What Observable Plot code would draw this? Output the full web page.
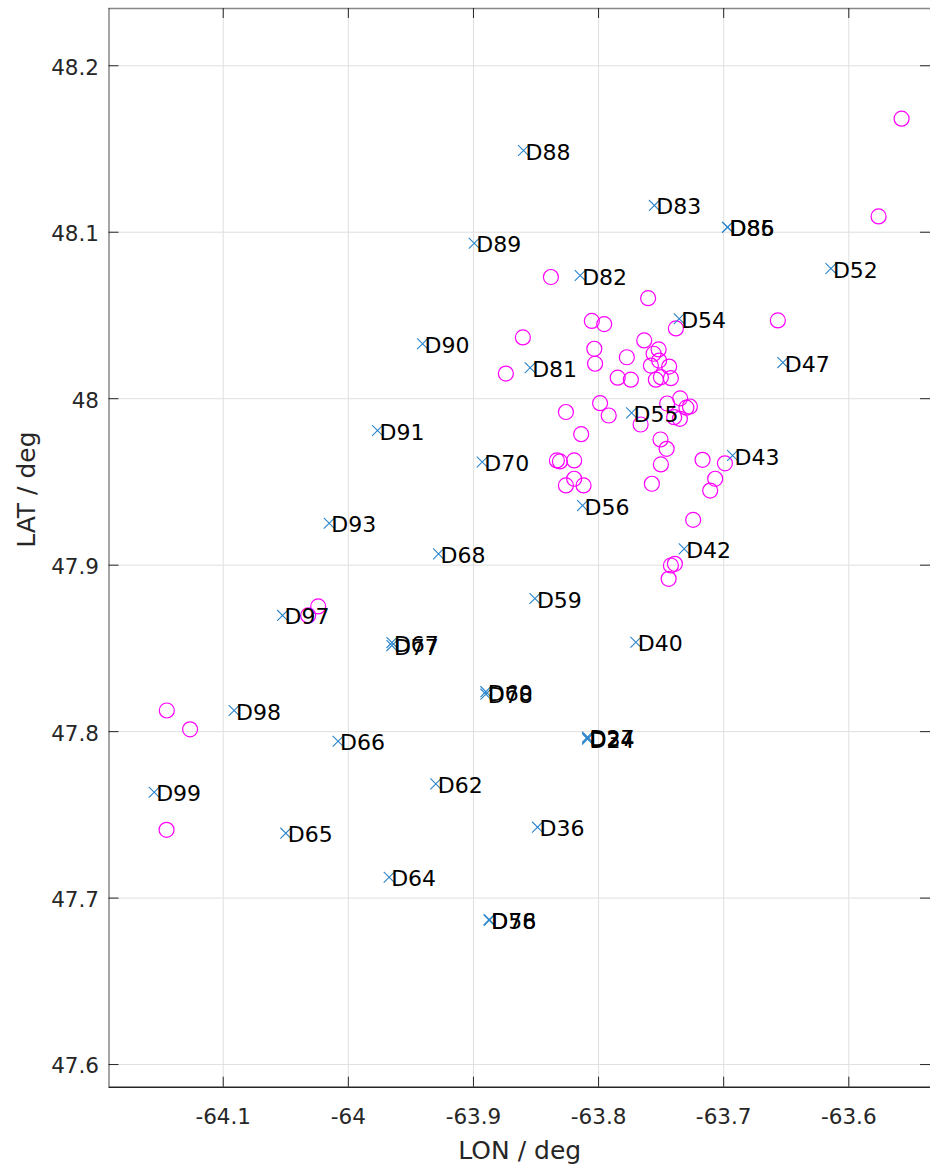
<!DOCTYPE html>
<html>
<head>
<meta charset="utf-8">
<script src="https://cdn.jsdelivr.net/npm/d3@7"></script>
<script src="https://cdn.jsdelivr.net/npm/@observablehq/plot@0.6"></script>
<style>
html,body{margin:0;padding:0;background:#fff;overflow:hidden;}
</style>
</head>
<body>
<div id="chart"></div>
<script>
// Stations (blue x markers with labels)
const stationNames = ["D88","D83","D85","D86","D52","D89","D82","D54","D90","D81","D47","D55","D91","D70","D43","D56","D93","D68","D42","D59","D97","D67","D77","D40","D60","D78","D27","D24","D34","D98","D66","D99","D62","D36","D65","D64","D58","D76"];
const stationLon = [-63.8600,-63.7554,-63.6969,-63.6969,-63.6143,-63.8994,-63.8147,-63.7356,-63.9407,-63.8547,-63.6527,-63.7736,-63.9767,-63.8930,-63.6929,-63.8128,-64.0153,-63.9279,-63.7316,-63.8509,-64.0526,-63.9652,-63.9652,-63.7702,-63.8901,-63.8901,-63.8088,-63.8088,-63.8088,-64.0913,-64.0082,-64.1552,-63.9301,-63.8488,-64.0500,-63.9674,-63.8874,-63.8874];
const stationLat = [48.1491,48.1161,48.1030,48.1030,48.0782,48.0934,48.0740,48.0480,48.0330,48.0186,48.0217,47.9915,47.9809,47.9620,47.9659,47.9358,47.9252,47.9068,47.9098,47.8800,47.8698,47.8535,47.8517,47.8537,47.8240,47.8225,47.7968,47.7955,47.7962,47.8127,47.7942,47.7636,47.7686,47.7426,47.7390,47.7125,47.6871,47.6866];

// Events (magenta circles)
const eventLon = [-63.5578,-63.5762,-63.8381,-63.7604,-63.8054,-63.7955,-63.7382,-63.6567,-63.8605,-63.8741,-63.8034,-63.8028,-63.7774,-63.7635,-63.7560,-63.7520,-63.7582,-63.7516,-63.7436,-63.7847,-63.7742,-63.7542,-63.7502,-63.7422,-63.7988,-63.7919,-63.8261,-63.7452,-63.7348,-63.7298,-63.7270,-63.7396,-63.7350,-63.7664,-63.8139,-63.7505,-63.7456,-63.7502,-63.8333,-63.8309,-63.8195,-63.7169,-63.6990,-63.7068,-63.7108,-63.8261,-63.8195,-63.8120,-63.7574,-63.7244,-63.7422,-63.7390,-63.7440,-64.0321,-64.0241,-64.1451,-64.1265,-64.1453];
const eventLat = [48.1682,48.1095,48.0731,48.0604,48.0467,48.0448,48.0422,48.0470,48.0368,48.0151,48.0300,48.0210,48.0249,48.0350,48.0270,48.0296,48.0199,48.0229,48.0193,48.0126,48.0114,48.0114,48.0129,48.0123,47.9973,47.9899,47.9920,47.9971,48.0002,47.9946,47.9953,47.9889,47.9879,47.9845,47.9787,47.9755,47.9699,47.9605,47.9629,47.9623,47.9629,47.9633,47.9612,47.9519,47.9448,47.9479,47.9519,47.9479,47.9489,47.9272,47.8998,47.9008,47.8918,47.8698,47.8752,47.8127,47.8014,47.7410];

// Axes
const xTicks = [-64.1,-64.0,-63.9,-63.8,-63.7,-63.6];
const xTickLabels = ["-64.1","-64","-63.9","-63.8","-63.7","-63.6"];
const yTicks = [47.6,47.7,47.8,47.9,48.0,48.1,48.2];
const yTickLabels = ["47.6","47.7","47.8","47.9","48","48.1","48.2"];
const xDomain = [-64.1913,-63.5347];
const yDomain = [47.5864,48.2344];
const xTitle = "LON / deg";
const yTitle = "LAT / deg";

const stations = stationNames.map((name,i)=>({name, lon: stationLon[i], lat: stationLat[i]}));
const events = eventLon.map((lon,i)=>({lon, lat: eventLat[i]}));

const axisColor = "#262626";
const font = "'DejaVu Sans', sans-serif";

const chart = Plot.plot({
  width: 930,
  height: 1170,
  marginTop: 8,
  marginBottom: 83.3,
  marginLeft: 108.5,
  marginRight: 0,
  style: {fontFamily: font, background: "#fff", color: axisColor},
  x: {domain: xDomain, axis: null},
  y: {domain: yDomain, axis: null},
  marks: [
    // grid
    Plot.ruleX(xTicks, {stroke: "#dfdfdf", strokeWidth: 1}),
    Plot.ruleY(yTicks, {stroke: "#dfdfdf", strokeWidth: 1}),
    // axis lines
    Plot.ruleX([xDomain[0]], {stroke: axisColor, strokeOpacity: 0.55, strokeWidth: 1.5}),
    Plot.ruleY([yDomain[1]], {stroke: axisColor, strokeOpacity: 0.55, strokeWidth: 1.5}),
    Plot.ruleY([yDomain[0]], {stroke: axisColor, strokeWidth: 1.4}),
    // inward ticks
    Plot.ruleX(xTicks, {y1: yDomain[0], y2: yDomain[0], insetBottom: 10, stroke: axisColor}),
    Plot.ruleX(xTicks, {y1: yDomain[1], y2: yDomain[1], insetTop: 10, stroke: axisColor}),
    Plot.ruleY(yTicks, {x1: xDomain[0], x2: xDomain[0], insetRight: -10, stroke: axisColor}),
    Plot.ruleY(yTicks, {x1: xDomain[1], x2: xDomain[1], insetLeft: -10, stroke: axisColor}),
    // tick labels
    Plot.text(xTicks, {x: d => d, y: yDomain[0], text: (d, i) => xTickLabels[i], dy: 30, fontSize: 21.5, fill: axisColor, lineAnchor: "middle"}),
    Plot.text(yTicks, {x: xDomain[0], y: d => d, text: (d, i) => yTickLabels[i], dx: -10, dy: 2, textAnchor: "end", fontSize: 21.5, fill: axisColor, lineAnchor: "middle"}),
    // axis titles
    Plot.text([xTitle], {frameAnchor: "bottom", dy: 64, fontSize: 25, fill: axisColor, lineAnchor: "middle"}),
    Plot.text([yTitle], {frameAnchor: "left", dx: -82, rotate: -90, fontSize: 25, fill: axisColor, lineAnchor: "middle"}),
    // data
    Plot.dot(events, {x: "lon", y: "lat", r: 7.5, stroke: "#ff00ff", fill: "none", strokeWidth: 1.2}),
    Plot.dot(stations, {x: "lon", y: "lat", symbol: "times", r: 5, stroke: "#2b85cc", strokeWidth: 1.1}),
    Plot.text(stations, {x: "lon", y: "lat", text: "name", textAnchor: "start", dx: 2, dy: 2, fontSize: 22, fill: "#000", lineAnchor: "middle"})
  ]
});
document.getElementById("chart").appendChild(chart);
</script>
</body>
</html>
